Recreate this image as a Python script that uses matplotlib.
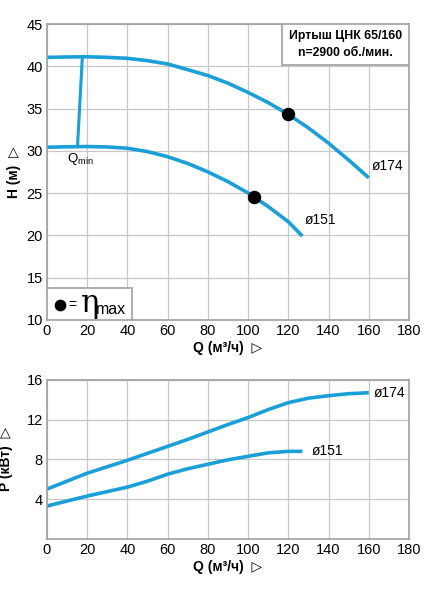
import numpy as np
import matplotlib.pyplot as plt

plt.rcParams['font.family'] = ['Liberation Sans', 'DejaVu Sans']

# Head curves H(Q), m
q174 = [0, 10, 20, 30, 40, 50, 60, 70, 80, 90, 100, 110, 120, 130, 140, 150, 160]
h174 = [41.05, 41.1, 41.12, 41.05, 40.94, 40.66, 40.27, 39.6, 38.9, 38.0,
        36.9, 35.7, 34.3, 32.7, 30.9, 28.9, 26.8]
q151 = [0, 10, 20, 30, 40, 50, 60, 70, 80, 90, 100, 110, 120, 127]
h151 = [30.42, 30.47, 30.5, 30.45, 30.3, 29.9, 29.3, 28.5, 27.5, 26.35,
        25.0, 23.4, 21.6, 19.9]

# Qmin line and best efficiency points
qmin_q = [17.6, 15.2]
qmin_h = [41.12, 30.5]
eta_q = [120, 103]
eta_h = [34.3, 24.55]

# Power curves P(Q), kW
pq174 = [0, 10, 20, 30, 40, 50, 60, 70, 80, 90, 100, 110, 120, 130, 140, 150, 160]
p174 = [5.0, 5.8, 6.6, 7.25, 7.9, 8.6, 9.3, 10.0, 10.75, 11.5, 12.2, 13.0,
        13.7, 14.15, 14.4, 14.6, 14.7]
pq151 = [0, 10, 20, 30, 40, 50, 60, 70, 80, 90, 100, 110, 120, 127]
p151 = [3.3, 3.8, 4.3, 4.75, 5.2, 5.8, 6.5, 7.05, 7.5, 7.95, 8.3, 8.65, 8.8, 8.8]

blue = '#1a9fd8'
grid_c = '#c8c8c8'
spine_c = '#a0a0a0'

fig = plt.figure(figsize=(4.47, 6.0), dpi=100)
ax1 = fig.add_axes([0.105, 0.467, 0.81, 0.493])
ax2 = fig.add_axes([0.105, 0.102, 0.81, 0.265])


def style(ax):
    ax.grid(True, color=grid_c, linewidth=0.9)
    ax.set_axisbelow(True)
    for s in ax.spines.values():
        s.set_color(spine_c)
        s.set_linewidth(1.2)
    ax.tick_params(length=0, labelsize=10.5, pad=3)
    ax.set_xlim(0, 180)
    ax.set_xticks(np.arange(0, 181, 20))


# top chart
style(ax1)
ax1.set_ylim(10, 45)
ax1.set_yticks(np.arange(10, 46, 5))
ax1.plot(q174, h174, color=blue, lw=2.6, solid_capstyle='butt', solid_joinstyle='round')
ax1.plot(q151, h151, color=blue, lw=2.6, solid_capstyle='butt', solid_joinstyle='round')
ax1.plot(qmin_q, qmin_h, color=blue, lw=2.2)
ax1.scatter(eta_q, eta_h, s=75, color='black', zorder=5)
ax1.text(10, 29.0, 'Q$_{\\mathregular{min}}$', fontsize=9.5, va='center')
ax1.text(161.6, 28.25, 'ø174', fontsize=10, va='center')
ax1.text(128.3, 21.75, 'ø151', fontsize=10, va='center')

# info box
ax1.add_patch(plt.Rectangle((116.9, 40.15), 63.1, 4.85, fc='white', ec=spine_c,
                            lw=1.2, zorder=3))
ax1.text(148.5, 43.55, 'Иртыш ЦНК 65/160', fontsize=8.8, fontweight='bold',
         ha='center', va='center', zorder=4)
ax1.text(148.5, 41.55, 'n=2900 об./мин.', fontsize=8.8, fontweight='bold',
         ha='center', va='center', zorder=4)

# eta max legend
ax1.add_patch(plt.Rectangle((0, 10), 42.1, 3.75, fc='white', ec=spine_c,
                            lw=1.2, zorder=3))
ax1.scatter([6.5], [11.8], s=55, color='black', zorder=4)
ax1.text(12.8, 11.75, '=', fontsize=10, ha='center', va='center', zorder=4)
ax1.text(16.8, 11.9, 'η', fontsize=22, va='center', family='DejaVu Serif', zorder=4)
ax1.text(24.5, 11.2, 'max', fontsize=11.5, va='center', zorder=4)

ax1.set_xlabel('Q (м³/ч)  ▷', fontsize=10, fontweight='bold', labelpad=2)
ax1.set_ylabel('H (м)  ▷', fontsize=10, fontweight='bold', labelpad=4)

# bottom chart
style(ax2)
ax2.set_ylim(0, 16)
ax2.set_yticks([4, 8, 12, 16])
ax2.plot(pq174, p174, color=blue, lw=2.6, solid_capstyle='butt', solid_joinstyle='round')
ax2.plot(pq151, p151, color=blue, lw=2.6, solid_capstyle='butt', solid_joinstyle='round')
ax2.text(162.6, 14.7, 'ø174', fontsize=10, va='center')
ax2.text(131.6, 8.86, 'ø151', fontsize=10, va='center')
ax2.set_xlabel('Q (м³/ч)  ▷', fontsize=10, fontweight='bold', labelpad=2)
ax2.set_ylabel('P (кВт)  ▷', fontsize=10, fontweight='bold', labelpad=10)

fig.savefig('out.png', dpi=100)
